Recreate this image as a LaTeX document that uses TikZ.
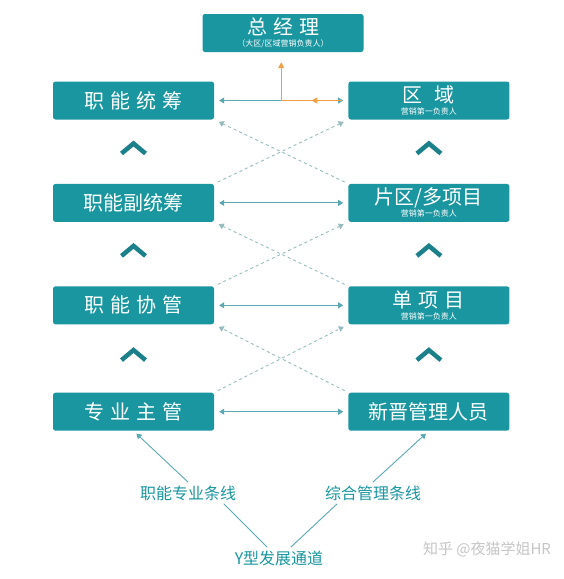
\documentclass[tikz,border=0pt]{standalone}
\usepackage{fontspec}
\setmainfont{Noto Sans CJK SC}
\usetikzlibrary{calc}
\usetikzlibrary{arrows.meta, positioning}
\usetikzlibrary{decorations.markings}
\definecolor{ytteal}{RGB}{26,150,160}
\definecolor{ytline}{RGB}{90,168,178}
\definecolor{ytdash}{RGB}{150,188,192}
\definecolor{ytdark}{RGB}{28,128,138}
\definecolor{ytorange}{RGB}{240,160,70}
\newcommand{\cgap}{\hspace{0.3em}}
\newcommand{\subln}[1]{\\[-10pt]{\fontsize{8}{9}\selectfont #1}}

\begin{document}
\begin{tikzpicture}[
        x=1pt, y=-1pt,
        box/.style={fill=ytteal, rounded corners=2.5pt, align=center, text=white, minimum width=161pt, minimum height=38pt, inner sep=0pt, font=\fontsize{20}{22}\selectfont},
        ar/.style={{Triangle[length=5pt,width=6pt]}-{Triangle[length=5pt,width=6pt]}, ytline, line width=0.9pt, shorten <=5pt, shorten >=5pt},
        dsh/.style={-{Triangle[length=5pt,width=6pt]}, ytdash, line width=0.9pt, dash pattern=on 3pt off 3pt, shorten <=4pt, shorten >=5pt},
        chev/.style={ytdark, line width=4.5pt},
        lbl/.style={text=ytteal, font=\fontsize{16}{18}\selectfont},
        ln/.style={ytline, line width=0.9pt},
        org/.style={ytorange, line width=0.9pt}
    ]
        \fill[white] (0,0) rectangle (563,579);
        \useasboundingbox (0,0) rectangle (563,579);

        \node[box] (zjl) at (283,33) {总\cgap{}经\cgap{}理\subln{（大区/区域营销负责人）}};

        \node[box]                       (tc)  at (133.5,100.5) {职\cgap{}能\cgap{}统\cgap{}筹};
        \node[box, below=64pt of tc]     (ftc) {职能副统筹};
        \node[box, below=64pt of ftc]    (xg)  {职\cgap{}能\cgap{}协\cgap{}管};
        \node[box, below=68pt of xg]     (zg)  {专\cgap{}业\cgap{}主\cgap{}管};

        \node[box, right=134pt of tc]    (qy)  {区\hspace{0.6em}域\subln{营销第一负责人}};
        \node[box, right=134pt of ftc]   (pq)  {片区/多项目\subln{营销第一负责人}};
        \node[box, right=134pt of xg]    (dx)  {单\cgap{}项\cgap{}目\subln{营销第一负责人}};
        \node[box, right=134pt of zg]    (xj)  {新晋管理人员};

        \foreach \a/\b in {tc/qy, ftc/pq, xg/dx, zg/xj}{\draw[ar] (\a) -- (\b);}

        % dashed cross links
        \foreach \a/\b in {ftc/qy, xg/pq, zg/dx}{\draw[dsh] (\a.north east) -- (\b.south west);}
        \foreach \a/\b in {pq/tc, dx/ftc, xj/xg}{\draw[dsh] (\a.north west) -- (\b.south east);}

        \foreach \a/\b in {tc/ftc, ftc/xg, xg/zg, qy/pq, pq/dx, dx/xj}{
            \draw[chev] ($(\a.south)!0.45!(\b.north)$) +(-12,5) -- +(0,-5) -- +(12,5);}

        % report line to the top
        \coordinate (hub) at ($(tc.east)!0.5!(qy.west)$);
        \draw[org, -{Triangle[length=6pt,width=6pt]}, shorten >=10pt] (hub) -- (hub |- zjl.south);
        \draw[org, shorten <=6pt, postaction={decorate},
            decoration={markings, mark=at position 0.55 with {\arrow{Triangle[length=6pt,width=6pt]}}}]
            (qy.west) -- (hub);

        \node[lbl] (zy) at (188,493) {职能专业条线};
        \node[lbl] (zh) at (373,493) {综合管理条线};
        \node[lbl] (yt) at (279,558) {Y型发展通道};

        \draw[ln, -{Triangle[length=5pt,width=6pt]}, shorten >=4pt] (zy.north) -- (zg.south);
        \draw[ln, -{Triangle[length=5pt,width=6pt]}, shorten >=4pt] (zh.north) -- (xj.south);
        \draw[ln] ([xshift=-12pt]yt.north) -- ([xshift=36pt]zy.south);
        \draw[ln] ([xshift=12pt]yt.north) -- ([xshift=-36pt]zh.south);

        \node[text=gray!45, font=\fontsize{15}{17}\selectfont] (wm) at (487,549) {知乎 @夜猫学姐HR};
    \end{tikzpicture}
\end{document}
